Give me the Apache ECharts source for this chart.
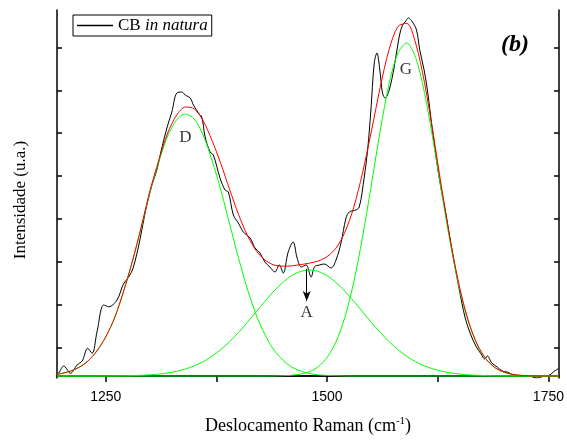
<!DOCTYPE html>
<html><head><meta charset="utf-8">
<script src="https://cdn.jsdelivr.net/npm/echarts@6/dist/echarts.min.js"></script>
<style>html,body{margin:0;padding:0;background:#fff}#c{width:567px;height:441px}</style>
</head><body><div id="c"></div>
<script>
// Measured spectrum (CB in natura)
const xCB = [1195.5,1197,1202.7,1206,1210.2,1217.7,1223.4,1229.7,1234.6,1240.2,
1247.8,1253.4,1262.8,1270,1276,1281,1288.6,1294.7,1302.2,1307.8,
1312.3,1319.1,1324.7,1330.3,1336,1339.7,1345.4,1349.1,1354.7,1358.5,
1362.3,1367.9,1371.6,1379.1,1384.8,1388.5,1394.2,1399.8,1405.4,1413,
1418.6,1424.2,1429.8,1435.4,1441.1,1446,1450.5,1456.1,1461.7,1466.2,
1471.1,1476.3,1482,1485.7,1491.3,1497,1504.5,1510.1,1515.7,1521.4,
1525.1,1532.6,1536.4,1542,1545.8,1549.5,1553.3,1556.3,1559.6,1562.6,
1565.6,1570.2,1575.8,1581.4,1585.2,1588.2,1591.9,1596.4,1601,1604.7,
1609.6,1613.3,1619,1626.5,1634,1641.5,1649,1656,1662,1668,
1674,1678,1681,1686,1692.2,1697.8,1703.4,1706,1712.8,1727.8,
1737.2,1742.8,1750.3,1756,1761.7];
const yCB = [2,3,10,7,2.7,11,15,27.7,22.7,44.3,
71,69.3,76,92,99,108,136,164,191,206,
224,248,264,283,284,281,278,271,263,259,
239,224,221,198,186,184,161,153,144,138,
128,123,114,109,104,111,103,124,134,118,
109,111,99,109,111,112,108,116,133,158,
164,166,169,199,226,266,313,323,306,283,
278,286,309,339,351,354,358,354,346,326,
306,286,246,199,163,124,88,58,42,30,
22,17,20,13,9,5,4,3,0.3,0,
-2,-0.7,0.3,4.3,7.7];

// Fitted curves
const xFit = [1195,1200,1210,1220,1230,1240,1250,1260,1270,1280,1290,1300,1310,1320,1330,1340,1350,1360,1370,1380,
1390,1400,1410,1420,1430,1440,1450,1460,1470,1480,1490,1500,1510,1520,1530,1540,1550,1560,1570,1580,
1590,1600,1610,1620,1630,1640,1650,1660,1670,1680,1690,1700,1710,1720,1730,1740,1750,1760,1762];
const fitD = [1.8,2.5,4.8,8.7,15,25,39,58,84,114,148,184,214,240,256,262,257,241,216,186,
152,118,87,61,41,26,16,9,5,2.5,1.2,0.6,0.3,0.1,0,0,0,0,0,0,
0,0,0,0,0,0,0,0,0,0,0,0,0,0,0,0,0,0,0];
const fitA = [0,0,0,0,0,0,0.1,0.1,0.2,0.4,0.7,1.2,1.9,3.0,4.7,7.0,10.1,14.3,19.7,26.4,
34.4,43.6,53.6,64.3,74.9,84.9,93.5,100.3,104.5,106,104.5,100.3,93.5,84.9,74.9,64.3,53.6,43.6,34.4,26.4,
19.7,14.3,10.1,7.0,4.7,3.0,1.9,1.2,0.7,0.4,0.2,0.1,0,0,0,0,0,0,0];
const fitG = [0,0,0,0,0,0,0,0,0,0,0,0,0,0,0,0,0,0,0,0,
0,0,0,0,0,0.1,0.3,0.8,1.9,4.3,9.3,18.5,34,58.5,93.4,138.6,191,245,292,323,
333,318.6,283.5,234.4,180.2,128.8,85.6,52.8,30.3,16.2,8.0,3.7,1.6,0.6,0.2,0,0,0,0];
const fitSum = [1.8,2.5,4.8,8.7,15,25,39.1,58.1,84.2,114.4,148.7,185.2,215.9,243,260.7,269,267.1,255.3,235.7,212.4,
186.4,161.6,140.6,125.3,115.9,111,109.8,110.1,111.4,112.8,115,119.4,127.8,143.5,168.3,202.9,244.6,288.6,326.4,349.4,
352.7,332.9,293.6,241.4,184.9,131.8,87.5,54,31,16.6,8.2,3.8,1.6,0.6,0.2,0,0,0,0];

// Axis ticks
const xTicks = [1250,1375,1500,1625,1750];
const xTickLabels = [1250,1500,1750];
const yTicks = [28,71,114,157,200,243,285,328];

// Band annotations
const bandNames = ['D','G','A'];
const bandX = [1340,1589,1477];
const bandY = [238,306,63];
const arrowX = 1477, arrowFrom = 107, arrowTo = 75;

const SERIF = 'Liberation Serif';
const SANS = 'Liberation Sans';
const frame = {lineStyle:{color:'#000',width:1.5}};
const GREEN = '#00ff00';

const chart = echarts.init(document.getElementById('c'), null, {renderer:'canvas'});
const pairs = (xs, ys) => xs.map((x,i)=>[x, ys[i]]);
const fitLine = (name, ys, color, z) => ({name, type:'line', xAxisIndex:0, yAxisIndex:0,
  data:pairs(xFit, ys), symbol:'none', smooth:0.3, lineStyle:{color, width:1}, z});

chart.setOption({
  animation:false,
  backgroundColor:'#fff',
  grid:{left:57,right:7,top:10,bottom:63,containLabel:false},
  title:{text:'(b)',left:501,top:33,padding:0,
    textStyle:{fontFamily:SERIF,fontStyle:'italic',fontWeight:'bold',fontSize:24,color:'#000'}},
  legend:{data:['CB in natura'],left:73,top:15,padding:[2,4],borderColor:'#000',borderWidth:1,
    itemWidth:36,itemHeight:1.5,icon:'rect',itemGap:5,
    formatter:()=> '{n|CB }{i|in natura}',
    textStyle:{color:'#000',rich:{
      n:{fontFamily:SERIF,fontSize:17,color:'#000'},
      i:{fontFamily:SERIF,fontSize:17,fontStyle:'italic',color:'#000'}}}},
  xAxis:[
    {type:'value',min:1195,max:1762,position:'bottom',
     axisLine:frame,
     axisTick:{customValues:xTicks,inside:false,length:6,lineStyle:{color:'#000',width:1.5}},
     axisLabel:{customValues:xTickLabels,color:'#000',fontFamily:SANS,fontSize:14,margin:12,
       formatter:v=>String(v)},
     splitLine:{show:false},
     name:'{a|Deslocamento Raman (cm}{s|-1}{a|)}',nameLocation:'middle',nameGap:38,
     nameTextStyle:{rich:{
       a:{fontFamily:SERIF,fontSize:18,color:'#000',lineHeight:21},
       s:{fontFamily:SERIF,fontSize:11,color:'#000',verticalAlign:'top',lineHeight:12}}}},
    {type:'value',min:1195,max:1762,position:'top',
     axisLine:frame,
     axisTick:{customValues:xTicks,inside:true,length:4,lineStyle:{color:'#000',width:1.5}},
     axisLabel:{show:false},splitLine:{show:false}}
  ],
  yAxis:[
    {type:'value',min:-2,max:366,position:'left',
     axisLine:frame,
     axisTick:{customValues:yTicks,inside:true,length:5,lineStyle:{color:'#000',width:1.5}},
     axisLabel:{show:false},splitLine:{show:false},
     name:'Intensidade (u.a.)',nameLocation:'middle',nameGap:28,
     nameTextStyle:{fontFamily:SERIF,fontSize:17,color:'#000',padding:[0,12,0,0]}},
    {type:'value',min:-2,max:366,position:'right',
     axisLine:frame,
     axisTick:{customValues:yTicks,inside:true,length:5,lineStyle:{color:'#000',width:1.5}},
     axisLabel:{show:false},splitLine:{show:false}}
  ],
  series:[
    {name:'CB in natura',type:'line',xAxisIndex:0,yAxisIndex:0,data:pairs(xCB,yCB),
     symbol:'none',smooth:0.35,lineStyle:{color:'#000',width:1},itemStyle:{color:'#000'},z:3},
    fitLine('D', fitD, GREEN, 4),
    fitLine('A', fitA, GREEN, 4),
    fitLine('G', fitG, GREEN, 4),
    fitLine('Fit', fitSum, '#ff0000', 5),
    {name:'bands',type:'scatter',xAxisIndex:0,yAxisIndex:0,symbolSize:1,
     itemStyle:{color:'rgba(0,0,0,0)'},silent:true,
     data:bandNames.map((n,i)=>({name:n,value:[bandX[i],bandY[i]]})),
     label:{show:true,position:'inside',formatter:'{b}',fontFamily:SERIF,fontSize:17,color:'#000'},
     markLine:{silent:true,symbol:['none','arrow'],symbolSize:[6,10],label:{show:false},
       lineStyle:{color:'#000',width:1,type:'solid'},
       data:[[{coord:[arrowX,arrowFrom]},{coord:[arrowX,arrowTo]}]]},
     z:6}
  ]
});
</script>
</body></html>
